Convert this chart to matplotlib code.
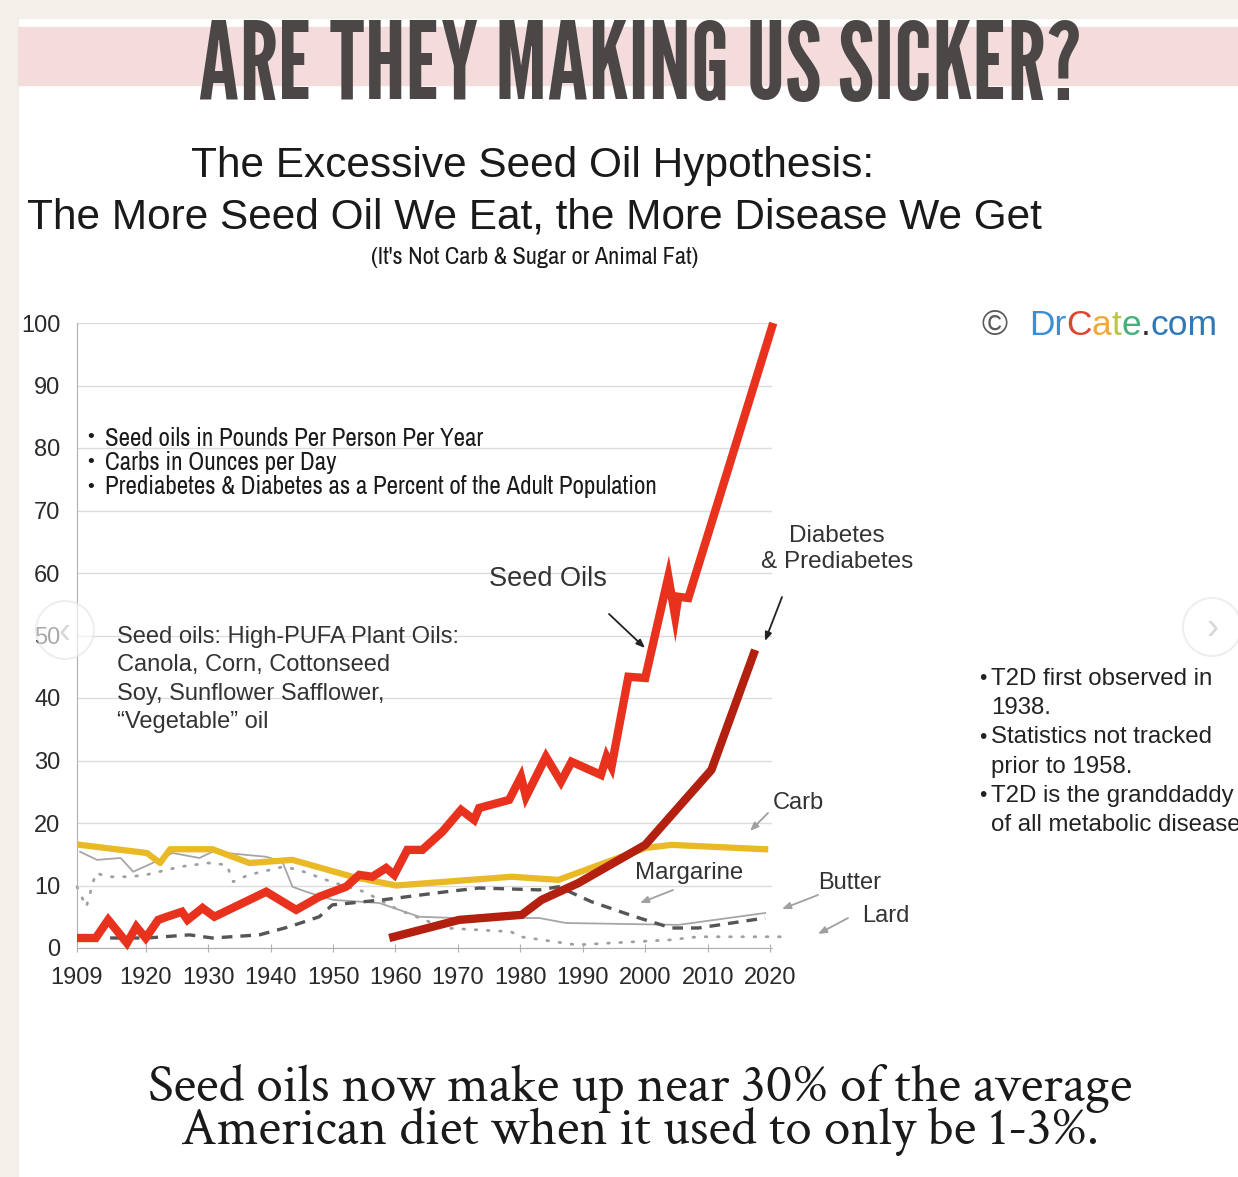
import matplotlib
matplotlib.use("Agg")
import matplotlib.pyplot as plt
from matplotlib.patches import Rectangle, Ellipse

W, H = 1238, 1177

# series (year, value)
seed_years = [1909, 1912, 1914, 1917, 1918.5, 1920, 1922, 1923.4, 1925.8, 1926.7,
              1929.1, 1931, 1939.3, 1944.1, 1947.8, 1952.1, 1954.2, 1956.3, 1958.5,
              1959.8, 1961.9, 1964.3, 1967.5, 1970.5, 1972.6, 1973.4, 1978.2, 1980.1,
              1980.9, 1984.1, 1986.5, 1988.2, 1992.9, 1993.8, 1994.6, 1997.3, 2000,
              2003.7, 2004.8, 2005.3, 2006.9, 2020.5]
seed_vals = [1.6, 1.6, 4.5, 0.8, 3.4, 1.6, 4.5, 5.0, 5.8, 4.5,
             6.4, 5.0, 9.0, 6.1, 8.2, 9.8, 11.7, 11.4, 12.8,
             11.7, 15.7, 15.7, 18.6, 22.1, 20.5, 22.4, 23.7, 27.4,
             24.2, 30.6, 26.6, 29.8, 27.7, 30.6, 29.0, 43.4, 43.2,
             59.4, 53.0, 56.2, 56.0, 100]

diab_years = [1959, 1970.2, 1980.2, 1983.4, 1989.3, 2000, 2010.6, 2017.6]
diab_vals = [1.6, 4.5, 5.3, 7.7, 10.4, 16.5, 28.5, 47.7]

carb_years = [1909.5, 1920.2, 1922.3, 1923.9, 1930.7, 1936.6, 1943.5, 1953.1,
              1960.1, 1978.6, 1986.1, 2000, 2004.2, 2019.2]
carb_vals = [16.5, 15.2, 13.6, 15.8, 15.8, 13.6, 14.1, 11.4,
             10.0, 11.4, 10.9, 16.0, 16.5, 15.8]

marg_years = [1914.3, 1920.2, 1927, 1930.7, 1938.2, 1943, 1947.8, 1949.9, 1957.9,
              1968.1, 1973.4, 1983, 1986.1, 1991.4, 1998.4, 2004.2, 2008.5, 2019.2]
marg_vals = [1.6, 1.6, 2.1, 1.6, 2.1, 3.4, 5.0, 6.9, 7.7,
             9.0, 9.6, 9.3, 9.8, 7.4, 5.0, 3.2, 3.2, 4.8]

butter_years = [1909.5, 1912.2, 1916, 1918, 1921.1, 1924.3, 1928.6, 1930.7, 1939.3,
                1941.9, 1943.5, 1945.7, 1950, 1957.4, 1963.8, 1969.7, 1983, 1987.3,
                2005.3, 2019.2]
butter_vals = [15.4, 14.1, 14.4, 12.2, 13.6, 15.2, 14.4, 15.4, 14.6,
               13.8, 9.8, 9.0, 7.7, 7.2, 5.0, 4.8, 4.8, 4.0,
               3.7, 5.6]

lard_years = [1909, 1910.5, 1912, 1914, 1917.5, 1920, 1925.5, 1930, 1933, 1934,
              1936.5, 1942, 1944.5, 1950, 1955, 1960.5, 1968, 1978.5, 1980, 1989,
              1994.5, 2004, 2008.5, 2023]
lard_vals = [9.8, 6.6, 12.0, 11.4, 11.4, 11.7, 13.0, 13.6, 13.3, 10.6,
             11.7, 13.0, 12.5, 10.5, 9.0, 6.1, 3.2, 2.6, 1.8, 0.5,
             0.8, 1.3, 1.8, 1.8]

x_ticks = [1909, 1920, 1930, 1940, 1950, 1960, 1970, 1980, 1990, 2000, 2010, 2020]
y_ticks = list(range(0, 101, 10))

SANS = ["Liberation Sans", "DejaVu Sans"]
NARROW = ["Liberation Sans Narrow", "Archivo Narrow", "Liberation Sans", "DejaVu Sans"]
SERIF = ["Crimson Text", "Liberation Serif", "DejaVu Serif"]


def fx(x):
    return x / W


def fy(y):
    return 1 - y / H


fig = plt.figure(figsize=(W / 100, H / 100), dpi=100, facecolor="white")

# page background strips and the pink title band
fig.add_artist(Rectangle((0, 0), fx(18), 1, color="#f3f0ea", zorder=0))
fig.add_artist(Rectangle((0, fy(18)), 1, 18 / H, color="#f3f0ea", zorder=0))
fig.add_artist(Rectangle((fx(18), fy(85)), 1, 58 / H, color="#f3dcdb", zorder=0))

title = fig.text(fx(640), fy(69), "ARE THEY MAKING US SICKER?", ha="center", va="center",
                 fontsize=72, color="#4b4747",
                 family=["League Gothic", "Oswald", "Liberation Sans Narrow", "DejaVu Sans"])
# fit the headline to its band width
renderer = fig.canvas.get_renderer()
tw = title.get_window_extent(renderer).width
title.set_fontsize(72 * 885 / tw)

fig.text(fx(533), fy(166), "The Excessive Seed Oil Hypothesis:", ha="center", va="center",
         fontsize=30.5, color="#1a1a1a", family=SANS)
fig.text(fx(534), fy(217), "The More Seed Oil We Eat, the More Disease We Get",
         ha="center", va="center", fontsize=30.5, color="#1a1a1a", family=SANS)
fig.text(fx(535), fy(257), "(It's Not Carb & Sugar or Animal Fat)", ha="center",
         va="center", fontsize=17.5, color="#1a1a1a", family=NARROW)

ax = fig.add_axes([fx(77), fy(948), (772 - 77) / W, (948 - 323) / H])
ax.set_xlim(1909, 2020.3)
ax.set_ylim(0, 100)
ax.set_facecolor("none")

ax.plot(lard_years, lard_vals, color="#a0a0a0", lw=2.0, ls=(0, (0.6, 3.8)),
        dash_capstyle="round", clip_on=False, zorder=2)
ax.plot(butter_years, butter_vals, color="#a6a6a6", lw=1.3, zorder=2)
ax.plot(marg_years, marg_vals, color="#555555", lw=2.4, ls=(0, (3.2, 2.4)), zorder=3)
ax.plot(carb_years, carb_vals, color="#e9b926", lw=4.5, solid_joinstyle="round", zorder=4)
ax.plot(diab_years, diab_vals, color="#b3200f", lw=6, solid_capstyle="butt", zorder=5)
ax.plot(seed_years, seed_vals, color="#e8321e", lw=6, solid_capstyle="butt",
        solid_joinstyle="miter", clip_on=False, zorder=6)

ax.set_yticks(y_ticks)
ax.set_xticks(x_ticks)
ax.set_xticklabels([str(t) for t in x_ticks])
ax.yaxis.grid(True, color="#dcdcdc", lw=1)
ax.set_axisbelow(True)
for s in ["top", "right"]:
    ax.spines[s].set_visible(False)
for s in ["left", "bottom"]:
    ax.spines[s].set_color("#b0b0b0")
ax.tick_params(axis="y", length=0, pad=12, labelsize=17, labelcolor="#2a2a2a")
ax.tick_params(axis="x", length=6, direction="inout", color="#b0b0b0", pad=11,
               labelsize=17, labelcolor="#2a2a2a")
for lab in ax.get_xticklabels() + ax.get_yticklabels():
    lab.set_family(SANS)

# notes inside the plot
units = ["Seed oils in Pounds Per Person Per Year",
         "Carbs in Ounces per Day",
         "Prediabetes & Diabetes as a Percent of the Adult Population"]
for i, u in enumerate(units):
    yy = 438 + i * 24.5
    fig.text(fx(91), fy(yy), "\u2022", ha="center", va="center", fontsize=14,
             color="#1a1a1a", family=SANS)
    fig.text(fx(105), fy(yy), u, ha="left", va="center", fontsize=18,
             color="#1a1a1a", family=NARROW)

fig.text(fx(117), fy(626), "Seed oils: High-PUFA Plant Oils:\nCanola, Corn, Cottonseed\n"
         "Soy, Sunflower Safflower,\n\u201cVegetable\u201d oil", ha="left", va="top",
         fontsize=17, color="#333333", family=SANS, linespacing=1.38)

fig.text(fx(548), fy(579), "Seed Oils", ha="center", va="center", fontsize=19.5,
         color="#333333", family=SANS)
fig.text(fx(837), fy(549), "Diabetes\n& Prediabetes", ha="center", va="center",
         fontsize=17.5, color="#333333", family=SANS, linespacing=1.25)
fig.text(fx(773), fy(803), "Carb", ha="left", va="center", fontsize=17,
         color="#333333", family=SANS)
fig.text(fx(689), fy(873), "Margarine", ha="center", va="center", fontsize=17.3,
         color="#333333", family=SANS)
fig.text(fx(818), fy(883), "Butter", ha="left", va="center", fontsize=17,
         color="#333333", family=SANS)
fig.text(fx(862), fy(916), "Lard", ha="left", va="center", fontsize=17,
         color="#333333", family=SANS)


def arrow(x0, y0, x1, y1, color):
    ax.annotate("", xy=(fx(x1), fy(y1)), xytext=(fx(x0), fy(y0)),
                xycoords="figure fraction", textcoords="figure fraction",
                arrowprops=dict(arrowstyle="-|>,head_length=0.5,head_width=0.2",
                                color=color, lw=1.3, shrinkA=0, shrinkB=0))


arrow(609, 614, 645, 648, "#222222")
arrow(782, 597, 765, 641, "#222222")
arrow(768, 813, 750, 831, "#a0a0a0")
arrow(673, 890, 640, 903, "#a0a0a0")
arrow(818, 895, 782, 909, "#a0a0a0")
arrow(848, 918, 818, 934, "#a0a0a0")

# right-hand notes
notes = [("\u2022", "T2D first observed in"), ("", "1938."),
         ("\u2022", "Statistics not tracked"), ("", "prior to 1958."),
         ("\u2022", "T2D is the granddaddy"), ("", "of all metabolic disease")]
for i, (b, t) in enumerate(notes):
    yy = 679 + i * 29.2
    if b:
        fig.text(fx(983), fy(yy), b, ha="center", va="center", fontsize=15,
                 color="#222222", family=SANS)
    fig.text(fx(991), fy(yy), t, ha="left", va="center", fontsize=17.3,
             color="#222222", family=SANS)

# coloured site credit
fig.text(fx(981), fy(335), "\u00a9", ha="left", va="baseline", fontsize=25.5,
         color="#5a5a5a", family=SANS)
pieces = [("Dr", "#3b8fd6"), ("C", "#dc4530"), ("a", "#f0a838"), ("t", "#bcc44a"),
          ("e", "#45b07c"), (".", "#333333"), ("com", "#3079b8")]
prev = fig.text(fx(1029), fy(335), pieces[0][0], ha="left", va="baseline",
                fontsize=25.5, color=pieces[0][1], family=SANS)
for txt, col in pieces[1:]:
    prev = ax.annotate(txt, xy=(1, 0), xycoords=prev, ha="left", va="bottom",
                       fontsize=25.5, color=col, family=SANS)

# slideshow arrows
for cx, cy, s in [(65, 630, "\u2039"), (1212, 627, "\u203a")]:
    fig.add_artist(Ellipse((fx(cx), fy(cy)), 58 / W, 58 / H, facecolor="white",
                           edgecolor="#e4e4e4", lw=1.5, alpha=0.6, zorder=10))
    fig.text(fx(cx), fy(cy + 3), s, ha="center", va="center", fontsize=26,
             color="#d8d8d8", family=SANS, zorder=11)

fig.text(fx(640), fy(1110), "Seed oils now make up near 30% of the average\n"
         "American diet when it used to only be 1-3%.", ha="center", va="center",
         fontsize=38.5, color="#1a1a1a", family=SERIF, linespacing=0.82)

fig.savefig("out.png", dpi=100, facecolor="white")
